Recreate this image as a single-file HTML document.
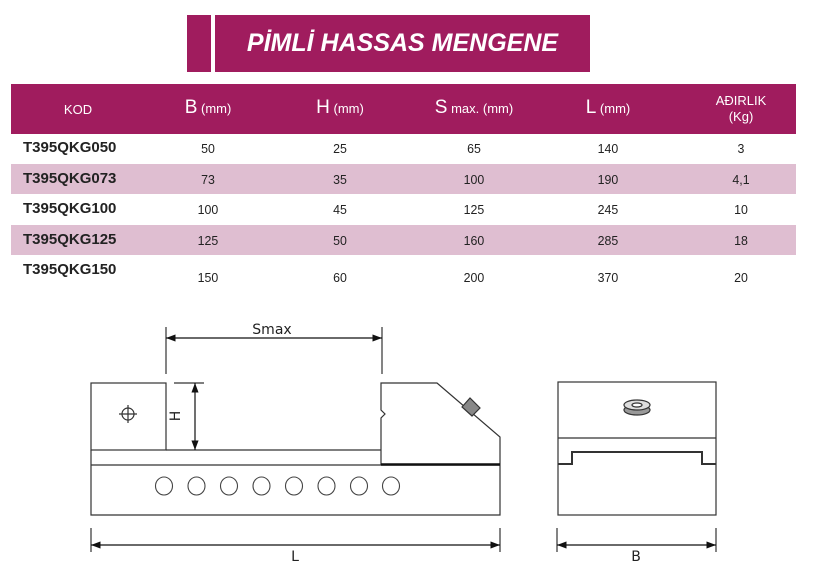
<!DOCTYPE html>
<html><head><meta charset="utf-8"><style>
body{margin:0;width:818px;height:586px;background:#fff;position:relative;overflow:hidden;font-family:"Liberation Sans",sans-serif}
.a{position:absolute}
.t{position:absolute;text-align:center;font-size:13px;color:#222;width:80px;transform:scaleX(0.95)}
.c{position:absolute;left:23px;font-weight:bold;font-size:15px;color:#222}
.h{position:absolute;color:#fff;text-align:center;width:120px;font-size:13px}
.h b{font-weight:normal;font-size:19px}
</style></head><body>
<div class="a" style="left:187px;top:15px;width:24px;height:57px;background:#a01c5e"></div>
<div class="a" style="left:215px;top:15px;width:375px;height:57px;background:#a01c5e;color:#fff;font-weight:bold;font-style:italic;font-size:25px;line-height:57px;text-align:center">PİMLİ HASSAS MENGENE</div>
<div class="a" style="left:11px;top:84px;width:785px;height:50px;background:#a01c5e"></div>
<div class="a" style="left:11px;top:164px;width:785px;height:30px;background:#dfbed1"></div>
<div class="a" style="left:11px;top:225px;width:785px;height:30px;background:#dfbed1"></div>
<div class="h" style="left:18px;top:102px">KOD</div>
<div class="h" style="left:148px;top:97px"><b>B</b> (mm)</div>
<div class="h" style="left:280px;top:97px"><b>H</b> (mm)</div>
<div class="h" style="left:414px;top:97px"><b>S</b> max. (mm)</div>
<div class="h" style="left:548px;top:97px"><b>L</b> (mm)</div>
<div class="h" style="left:681px;top:93px;line-height:16px">AĐIRLIK<br>(Kg)</div>
<div class="c" style="top:139px">T395QKG050</div>
<div class="c" style="top:170px">T395QKG073</div>
<div class="c" style="top:200px">T395QKG100</div>
<div class="c" style="top:231px">T395QKG125</div>
<div class="c" style="top:261px">T395QKG150</div>
<div id="v"></div>
<script>
var rows=[["50","25","65","140","3",141],["73","35","100","190","4,1",172],["100","45","125","245","10",202],["125","50","160","285","18",233],["150","60","200","370","20",270]];
var xs=[208,340,474,608,741],h="";
rows.forEach(r=>{for(var i=0;i<5;i++)h+='<div class="t" style="left:'+(xs[i]-40)+'px;top:'+r[5]+'px">'+r[i]+'</div>';});
document.getElementById("v").innerHTML=h;
</script>
<svg class="a" style="left:0;top:0" width="818" height="586" viewBox="0 0 818 586">
<defs><marker id="ar" markerWidth="8" markerHeight="6" refX="8" refY="3" orient="auto-start-reverse"><path d="M0,0 L8,3 L0,6z" fill="#111"/></marker></defs>
<g fill="none" stroke="#333" stroke-width="1.2">
<rect x="91" y="383" width="75" height="67"/>
<path d="M91 450 H91 V465 H500 M166 450 H381 V465 M91 465 V515 H500 V437 L437 383 H381 V410 L385 414 L381 418 V465"/>
<path d="M381 464.5 H500" stroke-width="2.5" stroke="#111"/>
<path d="M166 327 V374 M382 327 V374 M174 383 H204 M91 528 V552 M500 528 V552 M557 528 V552 M716 528 V552"/>
<line x1="166" y1="338" x2="382" y2="338" marker-start="url(#ar)" marker-end="url(#ar)" stroke="#111"/>
<line x1="195" y1="383" x2="195" y2="450" marker-start="url(#ar)" marker-end="url(#ar)" stroke="#111"/>
<line x1="91" y1="545" x2="500" y2="545" marker-start="url(#ar)" marker-end="url(#ar)" stroke="#111"/>
<line x1="557" y1="545" x2="716" y2="545" marker-start="url(#ar)" marker-end="url(#ar)" stroke="#111"/>
<circle cx="128" cy="414" r="6"/><path d="M119 414 H137 M128 405 V423"/>
<g id="cc"></g>
<rect x="558" y="382" width="158" height="133"/>
<path d="M558 438 H716"/>
<path d="M558 464 H572 V452 H702 V464 H716" stroke-width="2"/>
<path d="M462 407 L470 398 L480 408 L472 416z" fill="#888"/>
<ellipse cx="637" cy="410" rx="13" ry="5" fill="#999"/>
<ellipse cx="637" cy="405" rx="13" ry="5" fill="#ddd"/>
<ellipse cx="637" cy="405" rx="5" ry="2" fill="#fff"/>
</g>
<g fill="none" stroke="#444" stroke-width="1.1">
<ellipse cx="164" cy="486" rx="8.5" ry="9"/><ellipse cx="196.5" cy="486" rx="8.5" ry="9"/><ellipse cx="229" cy="486" rx="8.5" ry="9"/><ellipse cx="261.5" cy="486" rx="8.5" ry="9"/><ellipse cx="294" cy="486" rx="8.5" ry="9"/><ellipse cx="326.5" cy="486" rx="8.5" ry="9"/><ellipse cx="359" cy="486" rx="8.5" ry="9"/><ellipse cx="391" cy="486" rx="8.5" ry="9"/>
</g>
<g font-family="DejaVu Sans,sans-serif" font-size="14" fill="#222" text-anchor="middle">
<text x="272" y="334">Smax</text>
<text x="295" y="561">L</text>
<text x="636" y="561">B</text>
<text x="0" y="0" transform="translate(180,416) rotate(-90)">H</text>
</g>
</svg>
</body></html>
